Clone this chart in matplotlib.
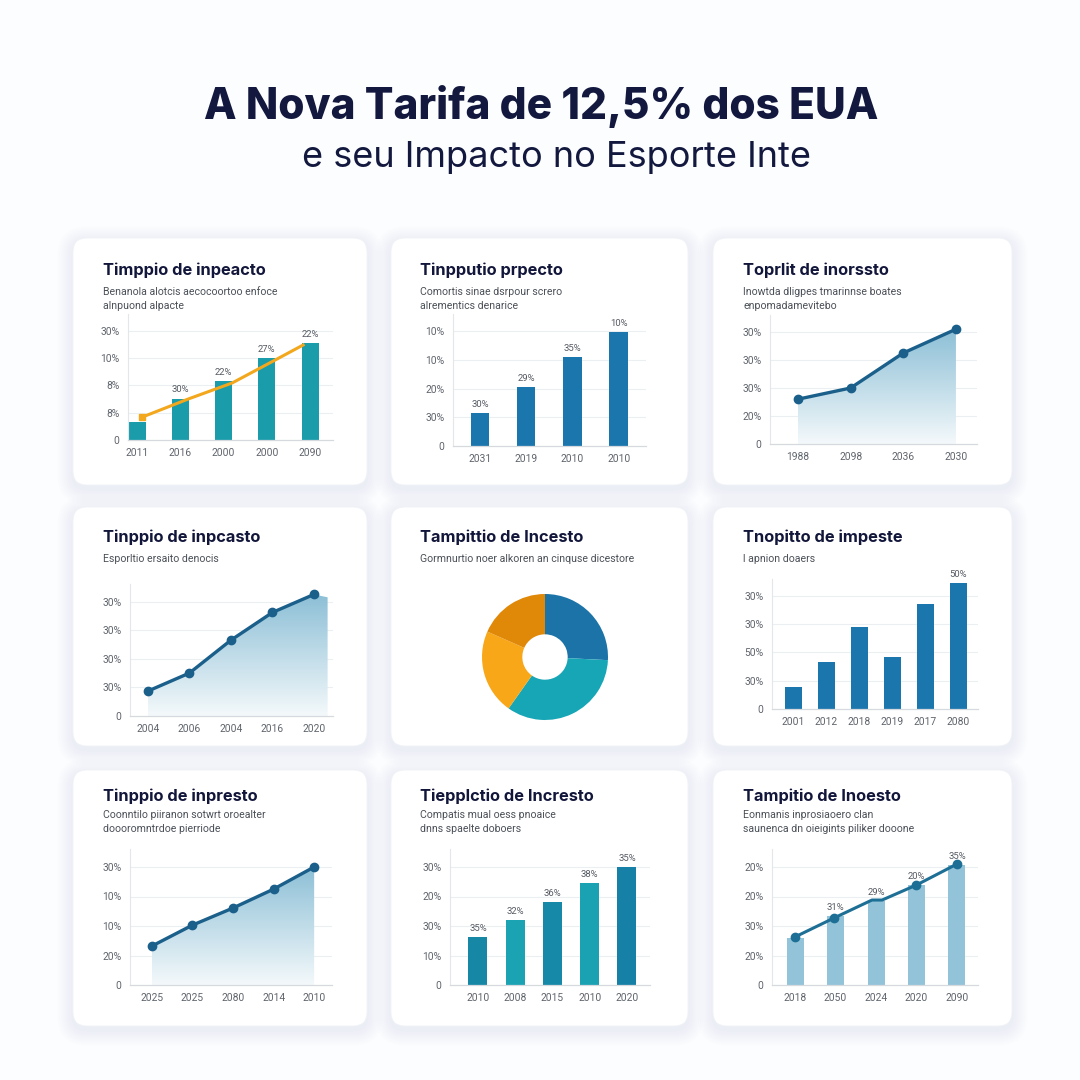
"""
infographic: US tariff and sport, 3x3 grid of small charts
"""

import numpy as np
import matplotlib
matplotlib.use("Agg")
import matplotlib.pyplot as plt
from matplotlib.patches import FancyBboxPatch, Polygon
from matplotlib.colors import LinearSegmentedColormap

plt.rcParams['font.family'] = ['Roboto', 'DejaVu Sans']
HEAD_FONT = ['Inter', 'Roboto', 'DejaVu Sans']

# data
# -------------------
title_main = "A Nova Tarifa de 12,5% dos EUA"
title_sub = "e seu Impacto no Esporte Inte"

card_titles = ["Timppio de inpeacto", "Tinpputio prpecto", "Toprlit de inorssto",
               "Tinppio de inpcasto", "Tampittio de Incesto", "Tnopitto de impeste",
               "Tinppio de inpresto", "Tiepplctio de Incresto", "Tampitio de Inoesto"]
card_subtitles = [["Benanola alotcis aecocoortoo enfoce", "alnpuond alpacte"],
                  ["Comortis sinae dsrpour screro", "alrementics denarice"],
                  ["Inowtda dligpes tmarinnse boates", "enpomadamevitebo"],
                  ["Esporltio ersaito denocis"],
                  ["Gormnurtio noer alkoren an cinquse dicestore"],
                  ["l apnion doaers"],
                  ["Coonntilo piiranon sotwrt oroealter", "doooromntrdoe pierriode"],
                  ["Compatis mual oess pnoaice", "dnns spaelte doboers"],
                  ["Eonmanis inprosiaoero clan", "saunenca dn oieigints piliker dooone"]]

# card 1: bars + orange line
c1_years = ["2011", "2016", "2000", "2000", "2090"]
c1_bars = [0.67, 1.52, 2.15, 3.0, 3.56]
c1_bar_labels = ["", "30%", "22%", "27%", "22%"]
c1_line_x = [0.12, 1.18, 2.2, 3.24, 3.84]
c1_line_y = [0.84, 1.5, 2.09, 2.97, 3.48]
c1_yticklabels = ["0", "8%", "8%", "10%", "30%"]

# card 2: bars
c2_years = ["2031", "2019", "2010", "2010"]
c2_bars = [1.15, 2.05, 3.1, 3.97]
c2_bar_labels = ["30%", "29%", "35%", "10%"]
c2_yticklabels = ["0", "30%", "20%", "10%", "10%"]

# card 3: area line
c3_years = ["1988", "2098", "2036", "2030"]
c3_values = [1.6, 2.0, 3.25, 4.1]
c3_yticklabels = ["0", "20%", "30%", "30%", "30%"]

# card 4: area line
c4_years = ["2004", "2006", "2004", "2016", "2020"]
c4_values = [0.87, 1.5, 2.65, 3.62, 4.25]
c4_yticklabels = ["0", "30%", "30%", "30%", "30%"]

# card 5: donut
c5_shares = [25.8, 34.0, 21.8, 18.4]
c5_colors = ["#1b73a8", "#17a6b6", "#f8a719", "#e08807"]

# card 6: bars
c6_years = ["2001", "2012", "2018", "2019", "2017", "2080"]
c6_bars = [0.78, 1.66, 2.9, 1.84, 3.7, 4.45]
c6_bar_labels = ["", "", "", "", "", "50%"]
c6_yticklabels = ["0", "30%", "50%", "30%", "30%"]

# card 7: area line
c7_years = ["2025", "2025", "2080", "2014", "2010"]
c7_values = [1.32, 2.03, 2.61, 3.25, 4.0]
c7_yticklabels = ["0", "20%", "10%", "10%", "30%"]

# card 8: bars
c8_years = ["2010", "2008", "2015", "2010", "2020"]
c8_bars = [1.63, 2.2, 2.81, 3.46, 4.0]
c8_bar_labels = ["35%", "32%", "36%", "38%", "35%"]
c8_colors = ["#1787a6", "#1ba3b4", "#1789a8", "#1aa1b2", "#1780a6"]
c8_yticklabels = ["0", "10%", "30%", "20%", "30%"]

# card 9: bars + line
c9_years = ["2018", "2050", "2024", "2020", "2090"]
c9_bars = [1.59, 2.34, 2.85, 3.39, 4.07]
c9_bar_labels = ["", "31%", "29%", "20%", "35%"]
c9_line_x = [0, 0.96, 1.9, 2.15, 3.0, 4.0]
c9_line_y = [1.63, 2.27, 2.88, 2.88, 3.39, 4.1]
c9_yticklabels = ["0", "20%", "30%", "20%", "20%"]

# layout helpers
# -------------------
W = H = 1080
NAVY = "#13183f"
TICK_GREY = "#5f646c"
GRID = "#eceff2"
LINE_BLUE = "#1b5f8b"

fig = plt.figure(figsize=(W / 100, H / 100), dpi=100, facecolor="#fcfdfe")

bg = fig.add_axes([0, 0, 1, 1])
bg.set_xlim(0, W)
bg.set_ylim(H, 0)
bg.axis("off")

bg.text(541, 107, title_main, ha="center", va="center", fontsize=30.5,
        fontweight="heavy", color=NAVY, family=HEAD_FONT)
bg.text(557, 158, title_sub, ha="center", va="center", fontsize=26,
        color=NAVY, family=HEAD_FONT)

col_x = [(73, 367), (391, 688), (713, 1012)]
row_y = [(238, 485), (507, 746), (770, 1026)]
title_y = [270, 537, 796]
sub_y = [292, 559, 815]
title_x = [103, 420, 743]

for r, (y0, y1) in enumerate(row_y):
    for c, (x0, x1) in enumerate(col_x):
        # soft shadow
        for k in range(8):
            pad = 1.5 + k * 2.0
            bg.add_patch(FancyBboxPatch((x0, y0 + 4), x1 - x0, y1 - y0,
                                        boxstyle=f"round,pad={pad},rounding_size={14 + pad}",
                                        facecolor="#a6bccf", edgecolor="none", alpha=0.018))
        bg.add_patch(FancyBboxPatch((x0, y0), x1 - x0, y1 - y0,
                                    boxstyle="round,pad=0,rounding_size=14",
                                    facecolor="white", edgecolor="#f0f3f6", linewidth=0.6))
        i = r * 3 + c
        bg.text(title_x[c], title_y[r], card_titles[i], ha="left", va="center",
                fontsize=11.8, fontweight="bold", color="#12163a", family=HEAD_FONT)
        for j, line in enumerate(card_subtitles[i]):
            bg.text(title_x[c], sub_y[r] + j * 14, line, ha="left", va="center",
                    fontsize=7.6, color="#4b5058")


def chart_axes(left, right, baseline, unit, xlim, yticklabels, xlabels, top_units=4.6):
    top = baseline - top_units * unit
    ax = fig.add_axes([left / W, 1 - baseline / H, (right - left) / W, (baseline - top) / H])
    ax.patch.set_visible(False)
    ax.set_xlim(*xlim)
    ax.set_ylim(0, top_units)
    ax.set_yticks(range(len(yticklabels)))
    ax.set_yticklabels(yticklabels)
    ax.set_xticks(range(len(xlabels)))
    ax.set_xticklabels(xlabels)
    ax.tick_params(length=0, labelsize=7.4, labelcolor=TICK_GREY)
    ax.tick_params(axis="y", pad=6)
    ax.tick_params(axis="x", pad=6)
    for yv in range(1, len(yticklabels)):
        ax.axhline(yv, color=GRID, lw=0.8, zorder=0)
    for s in ["top", "right"]:
        ax.spines[s].set_visible(False)
    ax.spines["left"].set_color("#e3e6ea")
    ax.spines["left"].set_linewidth(0.8)
    ax.spines["bottom"].set_color("#d6dade")
    ax.spines["bottom"].set_linewidth(0.9)
    return ax


def bar_labels(ax, xs, heights, labels):
    for x, h, lab in zip(xs, heights, labels):
        if lab:
            ax.annotate(lab, (x, h), xytext=(0, 3), textcoords="offset points",
                        ha="center", va="bottom", fontsize=6.8, color="#555a62")


gradient_cmap = LinearSegmentedColormap.from_list("area", ["#f4f9fb", "#8cbfd6"])


def gradient_area(ax, xs, ys, x_end=None, y_end=None):
    px = list(xs)
    py = list(ys)
    if x_end is not None:
        px.append(x_end)
        py.append(y_end)
    verts = [(px[0], 0)] + list(zip(px, py)) + [(px[-1], 0)]
    poly = Polygon(verts, closed=True, facecolor="none", edgecolor="none")
    ax.add_patch(poly)
    grad = np.linspace(0, 1, 256).reshape(-1, 1)
    im = ax.imshow(grad, extent=[px[0], px[-1], 0, max(py)], origin="lower",
                   aspect="auto", cmap=gradient_cmap, zorder=1)
    im.set_clip_path(poly)


# card 1
ax1 = chart_axes(128, 333, 440, 27.3, (-0.21, 4.53), c1_yticklabels, c1_years)
x1 = np.arange(len(c1_bars))
ax1.bar(x1, c1_bars, width=0.39, color="#1a9cab", zorder=2)
ax1.plot(c1_line_x, c1_line_y, color="#f2a71d", lw=2.2, zorder=3)
ax1.plot(c1_line_x[:1], c1_line_y[:1], marker="s", ms=5, color="#f2a71d", zorder=4)
bar_labels(ax1, x1, c1_bars, c1_bar_labels)
ax1.set_xlim(-0.21, 4.53)
ax1.set_ylim(0, 4.6)

# card 2
ax2 = chart_axes(453, 646, 446, 28.7, (-0.58, 3.59), c2_yticklabels, c2_years)
x2 = np.arange(len(c2_bars))
ax2.bar(x2, c2_bars, width=0.40, color="#1b76ae", zorder=2)
bar_labels(ax2, x2, c2_bars, c2_bar_labels)

# card 3
ax3 = chart_axes(770, 977, 444, 28.0, (-0.53, 3.40), c3_yticklabels, c3_years)
x3 = np.arange(len(c3_values))
gradient_area(ax3, x3, c3_values)
ax3.plot(x3, c3_values, color=LINE_BLUE, lw=2.4, marker="o", ms=6, zorder=3)
ax3.set_xlim(-0.53, 3.40)
ax3.set_ylim(0, 4.6)

# card 4
ax4 = chart_axes(130, 333, 716, 28.6, (-0.43, 4.46), c4_yticklabels, c4_years)
x4 = np.arange(len(c4_values))
gradient_area(ax4, x4, c4_values, x_end=4.33, y_end=c4_values[-1] - 0.1)
ax4.plot(x4, c4_values, color=LINE_BLUE, lw=2.4, marker="o", ms=6, zorder=3)
ax4.set_xlim(-0.43, 4.46)
ax4.set_ylim(0, 4.6)

# card 5: donut
r5 = 63
ax5 = fig.add_axes([(545 - r5) / W, 1 - (657 + r5) / H, 2 * r5 / W, 2 * r5 / H])
ax5.pie(c5_shares, colors=c5_colors, startangle=90, counterclock=False,
        wedgeprops=dict(width=0.64, edgecolor="none"))
ax5.set_xlim(-1, 1)
ax5.set_ylim(-1, 1)
ax5.set_aspect("equal")
ax5.axis("off")

# card 6
ax6 = chart_axes(772, 978, 709, 28.3, (-0.64, 5.6), c6_yticklabels, c6_years)
x6 = np.arange(len(c6_bars))
ax6.bar(x6, c6_bars, width=0.52, color="#1b76ae", zorder=2)
bar_labels(ax6, x6, c6_bars, c6_bar_labels)

# card 7
ax7 = chart_axes(130, 332, 985, 29.5, (-0.54, 4.44), c7_yticklabels, c7_years)
x7 = np.arange(len(c7_values))
gradient_area(ax7, x7, c7_values)
ax7.plot(x7, c7_values, color=LINE_BLUE, lw=2.4, marker="o", ms=6, zorder=3)
ax7.set_xlim(-0.54, 4.44)
ax7.set_ylim(0, 4.6)

# card 8
ax8 = chart_axes(450, 650, 985, 29.5, (-0.75, 4.62), c8_yticklabels, c8_years)
x8 = np.arange(len(c8_bars))
ax8.bar(x8, c8_bars, width=0.51, color=c8_colors, zorder=2)
bar_labels(ax8, x8, c8_bars, c8_bar_labels)

# card 9
ax9 = chart_axes(772, 978, 985, 29.5, (-0.57, 4.52), c9_yticklabels, c9_years)
x9 = np.arange(len(c9_bars))
ax9.bar(x9, c9_bars, width=0.42, color="#93c3d9", zorder=2)
ax9.plot(c9_line_x, c9_line_y, color="#1d6f95", lw=2.2, marker="o", ms=6,
         markevery=[0, 1, 4, 5], zorder=3)
bar_labels(ax9, x9, c9_bars, c9_bar_labels)

fig.savefig("out.png", dpi=100, facecolor=fig.get_facecolor())
